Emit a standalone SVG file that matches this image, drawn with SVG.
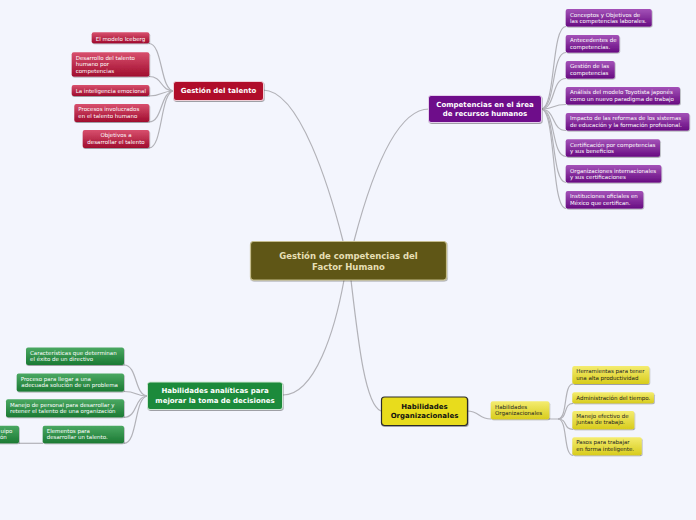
<svg xmlns="http://www.w3.org/2000/svg" width="696" height="520" viewBox="0 0 696 520">
<defs>
<style>
.c{fill:none;stroke:#b2b2b8;stroke-width:1.2}
.t{font-family:"DejaVu Sans",Verdana,sans-serif;font-size:5.5px;fill:#fff}
.tk{font-family:"DejaVu Sans",Verdana,sans-serif;font-size:5.5px;fill:#222}
.tb{font-family:"DejaVu Sans",Verdana,sans-serif;font-size:7px;font-weight:bold;fill:#fff;text-anchor:middle}
.m{text-anchor:middle}
</style>
<linearGradient id="gr" x1="0" y1="0" x2="0" y2="1"><stop offset="0" stop-color="#d8506e"/><stop offset="1" stop-color="#a00c2e"/></linearGradient>
<linearGradient id="gp" x1="0" y1="0" x2="0" y2="1"><stop offset="0" stop-color="#a452b8"/><stop offset="1" stop-color="#680c82"/></linearGradient>
<linearGradient id="gg" x1="0" y1="0" x2="0" y2="1"><stop offset="0" stop-color="#4aa862"/><stop offset="1" stop-color="#1b7a34"/></linearGradient>
<linearGradient id="gy" x1="0" y1="0" x2="0" y2="1"><stop offset="0" stop-color="#f4ec70"/><stop offset="1" stop-color="#d8cc1c"/></linearGradient>
<filter id="sh" x="-10%" y="-20%" width="120%" height="160%"><feDropShadow dx="0.6" dy="1" stdDeviation="0.7" flood-color="#000" flood-opacity="0.35"/></filter>
</defs>
<rect width="696" height="520" fill="#f3f5fd"/>

<g id="connectors">
<path class="c" d="M263,90 C300,90 330,190 343,241"/>
<path class="c" d="M354,241 C370,180 395,109 429,109"/>
<path class="c" d="M344,280 C335,330 315,395 283,395"/>
<path class="c" d="M351,280 C358,340 365,405 381,411"/>
<path class="c" d="M174,91 C160,91 163,43.5 149,43.5"/>
<path class="c" d="M174,91 C160,91 163,76.5 149,76.5"/>
<path class="c" d="M174,91 C160,91 163,96 149,96"/>
<path class="c" d="M174,91 C160,91 163,122 149,122"/>
<path class="c" d="M174,91 C160,91 163,148 149,148"/>
<path class="c" d="M541,109 C556,109 551,26.5 566,26.5"/>
<path class="c" d="M541,109 C556,109 551,52.5 566,52.5"/>
<path class="c" d="M541,109 C556,109 551,78.5 566,78.5"/>
<path class="c" d="M541,109 C556,109 551,104.5 566,104.5"/>
<path class="c" d="M541,109 C556,109 551,130.5 566,130.5"/>
<path class="c" d="M541,109 C556,109 551,156.5 566,156.5"/>
<path class="c" d="M541,109 C556,109 551,182.5 566,182.5"/>
<path class="c" d="M541,109 C556,109 551,208.5 566,208.5"/>
<path class="c" d="M148,396 C134,396 138,365 124,365"/>
<path class="c" d="M148,396 C134,396 138,391.5 124,391.5"/>
<path class="c" d="M148,396 C134,396 138,417.3 124,417.3"/>
<path class="c" d="M148,396 C134,396 138,443.3 124,443.3"/>
<path class="c" d="M43,443.3 L19,443.3"/>
<path class="c" d="M467,411 C480,411 478,419 491,419"/>
<path class="c" d="M549,419 L558,419 C568,419 563,384 573,384"/>
<path class="c" d="M558,419 C568,419 563,403.3 573,403.3"/>
<path class="c" d="M558,419 C568,419 563,429.3 573,429.3"/>
<path class="c" d="M558,419 C568,419 563,455.3 573,455.3"/>
</g>

<g id="central">
<rect x="250.5" y="241.5" width="196" height="38.5" rx="3" fill="#5e5714" stroke="#c4bc8c" stroke-width="1.2" filter="url(#sh)"/>
<text class="tb" x="348.5" y="259" style="font-size:8.5px;fill:#e6dfb4">Gestión de competencias del</text>
<text class="tb" x="348.5" y="269.7" style="font-size:8.5px;fill:#e6dfb4">Factor Humano</text>
</g>

<g id="talento">
<rect x="173.5" y="81.5" width="90" height="19" rx="2.5" fill="#b00e2c" stroke="#f0d0d8" stroke-width="1" filter="url(#sh)"/>
<text class="tb" x="218.5" y="93.2">Gestión del talento</text>
</g>
<g id="iceberg"><rect x="91.7" y="32.3" width="57.6" height="11" rx="2" fill="url(#gr)" filter="url(#sh)"/><text class="t" x="95.7" y="40.5">El modelo Iceberg</text></g>
<g id="desarrollo"><rect x="71.7" y="52.3" width="77.6" height="24.3" rx="2" fill="url(#gr)" filter="url(#sh)"/><text class="t" x="75.7" y="59.6">Desarrollo del talento</text><text class="t" x="75.7" y="66.2">humano por</text><text class="t" x="75.7" y="72.8">competencias</text></g>
<g id="inteligencia"><rect x="71.7" y="85" width="77.6" height="11" rx="2" fill="url(#gr)" filter="url(#sh)"/><text class="t" x="75.7" y="92.6">La inteligencia emocional</text></g>
<g id="procesos"><rect x="74.3" y="104" width="75" height="18" rx="2" fill="url(#gr)" filter="url(#sh)"/><text class="t" x="78.3" y="111.3">Procesos involucrados</text><text class="t" x="78.3" y="118">en el talento humano</text></g>
<g id="objetivos"><rect x="82.7" y="130" width="66.6" height="18" rx="2" fill="url(#gr)" filter="url(#sh)"/><text class="t m" x="116" y="137.3">Objetivos a</text><text class="t m" x="116" y="144.2">desarrollar el talento</text></g>

<g id="competencias">
<rect x="428.5" y="95.5" width="113" height="27" rx="2.5" fill="#6e0e8a" stroke="#e4d0ec" stroke-width="1" filter="url(#sh)"/>
<text class="tb" x="485" y="107">Competencias en el área</text>
<text class="tb" x="485" y="116">de recursos humanos</text>
</g>
<g id="conceptos"><rect x="565.7" y="9" width="86" height="17.5" rx="2" fill="url(#gp)" filter="url(#sh)"/><text class="t" x="570" y="16.6">Conceptos y Objetivos de</text><text class="t" x="570" y="22.8">las competencias laborales.</text></g>
<g id="antecedentes"><rect x="565.7" y="35" width="53.6" height="17.5" rx="2" fill="url(#gp)" filter="url(#sh)"/><text class="t" x="570" y="42.4">Antecedentes de</text><text class="t" x="570" y="48.7">competencias.</text></g>
<g id="gestion-comp"><rect x="565.7" y="61" width="49" height="17.5" rx="2" fill="url(#gp)" filter="url(#sh)"/><text class="t" x="570" y="68.4">Gestión de las</text><text class="t" x="570" y="74.7">competencias</text></g>
<g id="analisis"><rect x="565.7" y="87" width="114.3" height="17.5" rx="2" fill="url(#gp)" filter="url(#sh)"/><text class="t" x="570" y="94.4">Análisis del modelo Toyotista japonés</text><text class="t" x="570" y="100.7">como un nuevo paradigma de trabajo</text></g>
<g id="impacto"><rect x="565.7" y="113" width="123.6" height="17.5" rx="2" fill="url(#gp)" filter="url(#sh)"/><text class="t" x="570" y="120.4">Impacto de las reformas de los sistemas</text><text class="t" x="570" y="126.7">de educación y la formación profesional.</text></g>
<g id="certificacion"><rect x="565.7" y="139.3" width="94.3" height="17.5" rx="2" fill="url(#gp)" filter="url(#sh)"/><text class="t" x="570" y="146.7">Certificación por competencias</text><text class="t" x="570" y="152.8">y sus beneficios</text></g>
<g id="organizaciones"><rect x="565.7" y="165" width="95.6" height="17.5" rx="2" fill="url(#gp)" filter="url(#sh)"/><text class="t" x="570" y="172.6">Organizaciones internacionales</text><text class="t" x="570" y="178.8">y sus certificaciones</text></g>
<g id="instituciones"><rect x="565.7" y="191" width="77.6" height="17.5" rx="2" fill="url(#gp)" filter="url(#sh)"/><text class="t" x="570" y="198.4">Instituciones oficiales en</text><text class="t" x="570" y="204.7">México que certifican.</text></g>

<g id="analiticas">
<rect x="147.5" y="382" width="135" height="27.5" rx="2.5" fill="#1c8a3a" stroke="#d0e8d4" stroke-width="1" filter="url(#sh)"/>
<text class="tb" x="215" y="393.2">Habilidades analíticas para</text>
<text class="tb" x="215" y="402.5">mejorar la toma de decisiones</text>
</g>
<g id="caracteristicas"><rect x="26" y="347.5" width="98" height="17.5" rx="2" fill="url(#gg)" filter="url(#sh)"/><text class="t" x="30" y="355.2">Características que determinan</text><text class="t" x="30" y="361.3">el éxito de un directivo</text></g>
<g id="proceso"><rect x="16.7" y="373.5" width="107.3" height="18" rx="2" fill="url(#gg)" filter="url(#sh)"/><text class="t" x="20.7" y="380.6">Proceso para llegar a una</text><text class="t" x="21.3" y="386.9">adecuada solución de un problema</text></g>
<g id="manejo-personal"><rect x="6" y="399.3" width="118" height="18" rx="2" fill="url(#gg)" filter="url(#sh)"/><text class="t" x="10" y="406.6">Manejo de personal para desarrollar y</text><text class="t" x="10" y="412.7">retener el talento de una organización</text></g>
<g id="elementos"><rect x="42.7" y="425.7" width="81.3" height="17.6" rx="2" fill="url(#gg)" filter="url(#sh)"/><text class="t" x="46.7" y="432.5">Elementos para</text><text class="t" x="46.7" y="439">desarrollar un talento.</text></g>
<g id="partial"><rect x="-30" y="425.7" width="49" height="17.6" rx="2" fill="url(#gg)" filter="url(#sh)"/><text class="t" x="12.3" y="432.5" text-anchor="end">uipo</text><text class="t" x="6.8" y="439" text-anchor="end">ión</text></g>

<g id="organizacionales">
<rect x="381.5" y="397" width="86" height="28.5" rx="3" fill="#e8dc1e" stroke="#2a2a2a" stroke-width="1.2" filter="url(#sh)"/>
<text class="tb" x="424.5" y="408.5" style="fill:#111">Habilidades</text>
<text class="tb" x="424.5" y="417.8" style="fill:#111">Organizacionales</text>
</g>
<g id="org-child"><rect x="490.7" y="401.3" width="58.6" height="18" rx="2" fill="url(#gy)" filter="url(#sh)"/><text class="tk" x="495" y="408.5">Habilidades</text><text class="tk" x="495" y="415">Organizacionales</text></g>
<g id="herramientas"><rect x="572.3" y="366" width="77" height="18" rx="2" fill="url(#gy)" filter="url(#sh)"/><text class="tk" x="576.3" y="373.4">Herramientas para tener</text><text class="tk" x="576.3" y="379.5">una alta productividad</text></g>
<g id="administracion"><rect x="572.3" y="392.3" width="81.7" height="11" rx="2" fill="url(#gy)" filter="url(#sh)"/><text class="tk" x="576.3" y="399.9">Administración del tiempo.</text></g>
<g id="juntas"><rect x="572.3" y="411" width="62" height="18.3" rx="2" fill="url(#gy)" filter="url(#sh)"/><text class="tk" x="576.3" y="417.6">Manejo efectivo de</text><text class="tk" x="576.3" y="424.2">juntas de trabajo.</text></g>
<g id="pasos"><rect x="572.3" y="437.3" width="69.4" height="18" rx="2" fill="url(#gy)" filter="url(#sh)"/><text class="tk" x="576.3" y="444">Pasos para trabajar</text><text class="tk" x="576.3" y="450.5">en forma inteligente.</text></g>
</svg>
